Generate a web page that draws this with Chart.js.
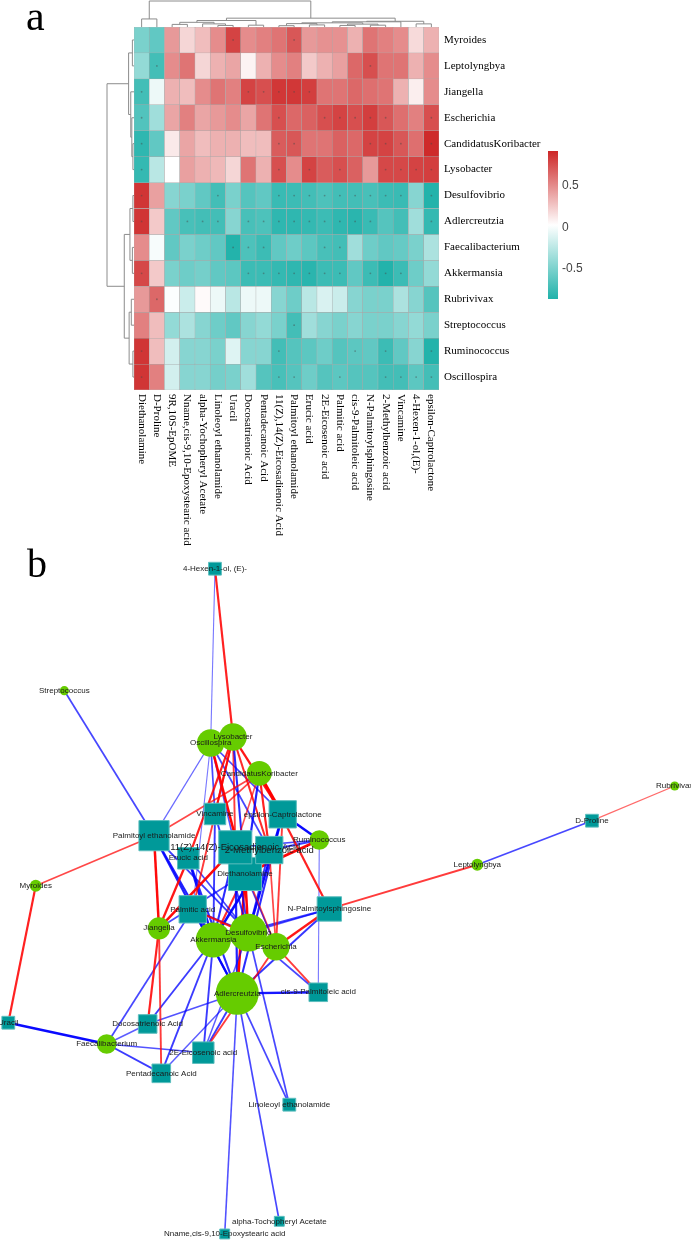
<!DOCTYPE html>
<html>
<head>
<meta charset="utf-8">
<title>Heatmap and correlation network</title>
<script src="https://cdn.jsdelivr.net/npm/chart.js@4.4.1/dist/chart.umd.min.js"></script>
<style>
  body { margin: 0; background: #fff; }
  #wrap { position: relative; width: 691px; height: 1240px; overflow: hidden; }
  #heat { position: absolute; left: 0; top: 0; }
  #net { position: absolute; left: 0; top: 540px; }
</style>
</head>
<body>
<div id="wrap">
  <canvas id="heat" width="691" height="560"></canvas>
  <canvas id="net" width="691" height="700"></canvas>
</div>
<script>
// ========================================
// Data
// ========================================
const bacteria = ['Myroides', 'Leptolyngbya', 'Jiangella', 'Escherichia', 'CandidatusKoribacter', 'Lysobacter',
    'Desulfovibrio', 'Adlercreutzia', 'Faecalibacterium', 'Akkermansia', 'Rubrivivax', 'Streptococcus',
    'Ruminococcus', 'Oscillospira'];

const metabolites = ['Diethanolamine', 'D-Proline', '9R,10S-EpOME', 'Nname,cis-9,10-Epoxystearic acid',
    'alpha-Yochopheryl Acetate', 'Linoleoyl ethanolamide', 'Uracil', 'Docosatrienoic Acid', 'Pentadecanoic Acid',
    '11(Z),14(Z)-Eicosadienoic Acid', 'Palmitoyl ethanolamide', 'Erucic acid', '2E-Eicosenoic acid', 'Palmitic acid',
    'cis-9-Palmitoleic acid', 'N-Palmitoylsphingosine', '2-Methylbenzoic acid', 'Vincamine', '4-Hexen-1-ol,(E)-',
    'epsilon-Captrolactone'];

// metabolite names as they are spelled in the network panel
const netNames = ['Diethanolamine', 'D-Proline', '9R,10S-EpOME', 'Nname,cis-9,10-Epoxystearic acid',
    'alpha-Tochopheryl Acetate', 'Linoleoyl ethanolamide', 'Uracil', 'Docosatrienoic Acid', 'Pentadecanoic Acid',
    '11(Z),14(Z)-Eicosadienoic Acid', 'Palmitoyl ethanolamide', 'Erucic acid', '2E-Eicosenoic acid', 'Palmitic acid',
    'cis-9-Palmitoleic acid', 'N-Palmitoylsphingosine', '2-Methylbenzoic acid', 'Vincamine', '4-Hexen-1-ol, (E)-',
    'epsilon-Captrolactone'];

// correlation, one row per bacterium, one value per metabolite
const corr = [
    [-0.50, -0.60, 0.45, 0.20, 0.30, 0.50, 0.80, 0.50, 0.55, 0.60, 0.72, 0.45, 0.48, 0.48, 0.35, 0.60, 0.55, 0.50, 0.18, 0.35],
    [-0.40, -0.72, 0.50, 0.60, 0.20, 0.35, 0.40, 0.08, 0.35, 0.50, 0.55, 0.25, 0.35, 0.42, 0.65, 0.75, 0.60, 0.60, 0.35, 0.50],
    [-0.72, -0.04, 0.35, 0.30, 0.50, 0.60, 0.55, 0.80, 0.75, 0.85, 0.85, 0.82, 0.60, 0.60, 0.65, 0.62, 0.60, 0.35, 0.10, 0.50],
    [-0.66, -0.35, 0.40, 0.55, 0.40, 0.45, 0.50, 0.40, 0.60, 0.75, 0.65, 0.68, 0.75, 0.80, 0.75, 0.82, 0.72, 0.62, 0.55, 0.75],
    [-0.80, -0.60, 0.12, 0.40, 0.30, 0.35, 0.35, 0.30, 0.30, 0.70, 0.72, 0.60, 0.60, 0.68, 0.65, 0.80, 0.80, 0.72, 0.62, 0.90],
    [-0.78, -0.25, 0.03, 0.42, 0.35, 0.32, 0.20, 0.60, 0.35, 0.75, 0.50, 0.80, 0.70, 0.75, 0.68, 0.45, 0.78, 0.78, 0.80, 0.82],
    [0.86, 0.42, -0.45, -0.50, -0.60, -0.72, -0.50, -0.65, -0.60, -0.76, -0.75, -0.72, -0.68, -0.72, -0.72, -0.70, -0.75, -0.76, -0.45, -0.85],
    [0.86, 0.25, -0.60, -0.70, -0.72, -0.72, -0.45, -0.70, -0.68, -0.80, -0.80, -0.78, -0.75, -0.80, -0.82, -0.76, -0.65, -0.72, -0.35, -0.78],
    [0.50, 0.00, -0.60, -0.50, -0.55, -0.60, -0.85, -0.68, -0.75, -0.60, -0.55, -0.62, -0.70, -0.72, -0.35, -0.55, -0.60, -0.58, -0.50, -0.30],
    [0.78, 0.25, -0.50, -0.55, -0.52, -0.60, -0.62, -0.75, -0.75, -0.78, -0.80, -0.82, -0.75, -0.75, -0.60, -0.75, -0.85, -0.75, -0.55, -0.40],
    [0.45, 0.65, 0.02, -0.18, 0.05, -0.04, -0.25, -0.04, -0.04, -0.45, -0.55, -0.25, -0.12, -0.18, -0.45, -0.50, -0.50, -0.30, -0.45, -0.65],
    [0.55, 0.30, -0.40, -0.30, -0.45, -0.55, -0.60, -0.45, -0.40, -0.50, -0.72, -0.35, -0.45, -0.50, -0.45, -0.50, -0.50, -0.45, -0.40, -0.50],
    [0.86, 0.30, -0.15, -0.45, -0.45, -0.50, -0.10, -0.45, -0.45, -0.72, -0.65, -0.62, -0.55, -0.65, -0.62, -0.60, -0.75, -0.60, -0.45, -0.85],
    [0.86, 0.55, -0.15, -0.45, -0.45, -0.52, -0.50, -0.35, -0.65, -0.70, -0.65, -0.55, -0.65, -0.62, -0.65, -0.65, -0.72, -0.72, -0.62, -0.72]
];

// significant cells (dots in the heatmap) = edges of the network
const sigCols = [
    [6, 10],
    [1, 15],
    [0, 7, 8, 9, 10, 11],
    [0, 9, 12, 13, 14, 15, 16, 19],
    [0, 9, 10, 15, 16, 17, 19],
    [0, 9, 11, 13, 16, 17, 18, 19],
    [0, 5, 9, 10, 11, 12, 13, 14, 15, 16, 17, 19],
    [0, 3, 4, 5, 7, 8, 9, 10, 11, 12, 13, 14, 15, 19],
    [6, 7, 8, 12, 13],
    [0, 7, 8, 9, 10, 11, 12, 13, 15, 16, 17],
    [1],
    [10],
    [0, 9, 14, 16, 19],
    [0, 9, 10, 13, 16, 17, 18, 19]
];

// dendrograms: [left, right, height]; leaves first, then merges in order
const rowTree = [
    [0, 1, 0.06], [4, 5, 0.04], [3, 15, 0.08], [2, 16, 0.12], [14, 17, 0.20],
    [6, 7, 0.04], [8, 9, 0.06], [19, 20, 0.15], [10, 11, 0.10], [12, 13, 0.04],
    [22, 23, 0.18], [21, 24, 0.36], [18, 25, 1.0]
];
const colTree = [
    [0, 1, 0.31], [2, 3, 0.10], [5, 6, 0.06], [4, 22, 0.12], [21, 23, 0.18],
    [7, 8, 0.07], [24, 25, 0.25], [9, 10, 0.05], [11, 12, 0.08], [27, 28, 0.13],
    [13, 14, 0.06], [15, 16, 0.07], [30, 31, 0.11], [29, 32, 0.16], [33, 17, 0.20],
    [18, 19, 0.12], [34, 35, 0.22], [26, 36, 0.34], [20, 37, 1.0]
];

const colorMin = -0.86;
const colorMax = 0.92;
const legendTicks = [0.5, 0, -0.5];

// network layout (layout units, 0-100 on each axis)
const bacPos = [
    [5.17, 49.39], [69.07, 46.39], [23.01, 55.47], [39.94, 58.10], [37.53, 33.33], [33.72, 28.14],
    [35.93, 56.10], [34.34, 64.76], [15.44, 72.00], [30.87, 57.14], [97.64, 35.14], [9.31, 21.53],
    [46.21, 42.86], [30.49, 29.00]
];
const metPos = [
    [35.46, 47.71], [85.67, 40.10], null, [32.52, 99.14], [40.42, 97.33], [41.87, 80.67], [1.20, 68.96],
    [21.37, 69.14], [23.34, 76.19], [34.05, 43.90], [22.29, 42.24], [27.25, 45.47], [29.42, 73.24],
    [27.89, 52.76], [46.06, 64.61], [47.66, 52.71], [38.97, 44.29], [31.11, 39.14], [31.11, 4.10],
    [40.91, 39.19]
];

// ========================================
// Helpers
// ========================================
function mix(a, b, t) {
    return a.map((v, i) => Math.round(v + (b[i] - v) * t));
}

function heatColor(v) {
    const lo = [32, 178, 170], mid = [255, 255, 255], hi = [205, 38, 38];
    const m = (colorMin + colorMax) / 2;
    let c;
    if (v < m) c = mix(lo, mid, Math.max(0, (v - colorMin) / (m - colorMin)));
    else c = mix(mid, hi, Math.min(1, (v - m) / (colorMax - m)));
    return `rgb(${c[0]},${c[1]},${c[2]})`;
}

function drawTree(ctx, tree, leafPix, heightPix) {
    const pos = leafPix.slice();
    const hts = leafPix.map(() => 0);
    tree.forEach(([i, j, h]) => {
        const hp = heightPix(h);
        ctx.beginPath();
        ctx.moveTo(...hp.pt(pos[i], heightPix(hts[i]).v));
        ctx.lineTo(...hp.pt(pos[i], hp.v));
        ctx.lineTo(...hp.pt(pos[j], hp.v));
        ctx.lineTo(...hp.pt(pos[j], heightPix(hts[j]).v));
        ctx.stroke();
        pos.push((pos[i] + pos[j]) / 2);
        hts.push(h);
    });
}

// ========================================
// Heatmap (panel a)
// ========================================
const heatSets = bacteria.map((name, r) => ({
    type: 'bar',
    label: name,
    data: metabolites.map(() => [r, r + 1]),
    backgroundColor: corr[r].map(heatColor),
    borderColor: '#a9a9a9',
    borderWidth: 0.5,
    borderSkipped: false,
    barPercentage: 1,
    categoryPercentage: 1,
    grouped: false,
    order: 2
}));

const sigPoints = [];
sigCols.forEach((cols, r) => cols.forEach(c => sigPoints.push({ x: metabolites[c], y: r + 0.5 })));

heatSets.push({
    type: 'scatter',
    label: 'p < 0.05',
    data: sigPoints,
    pointRadius: 0.9,
    pointBorderWidth: 0,
    backgroundColor: 'rgba(70,70,70,0.45)',
    order: 1
});

const heatExtras = {
    id: 'heatExtras',
    afterDraw(chart) {
        const { ctx, chartArea: a, scales: { x, y } } = chart;
        ctx.save();

        // column labels, rotated to read downwards
        ctx.font = '11px "Liberation Serif"';
        ctx.fillStyle = '#000';
        ctx.textAlign = 'left';
        ctx.textBaseline = 'middle';
        metabolites.forEach((m, i) => {
            ctx.save();
            ctx.translate(x.getPixelForValue(i), a.bottom + 4);
            ctx.rotate(Math.PI / 2);
            ctx.fillText(m, 0, 0);
            ctx.restore();
        });

        // dendrograms
        ctx.strokeStyle = '#8c8c8c';
        ctx.lineWidth = 1;
        const colLeaves = metabolites.map((_, i) => x.getPixelForValue(i));
        drawTree(ctx, colTree, colLeaves, h => ({ v: a.top - h * (a.top - 1), pt: (p, v) => [p, v] }));
        const rowLeaves = bacteria.map((_, i) => y.getPixelForValue(i + 0.5));
        drawTree(ctx, rowTree, rowLeaves, h => ({ v: a.left - h * 27, pt: (p, v) => [v, p] }));

        // colour bar
        const bx = 548, bw = 10, top = 151, bot = 299;
        const g = ctx.createLinearGradient(0, top, 0, bot);
        g.addColorStop(0, heatColor(colorMax));
        g.addColorStop(0.5, heatColor((colorMin + colorMax) / 2));
        g.addColorStop(1, heatColor(colorMin));
        ctx.fillStyle = g;
        ctx.fillRect(bx, top, bw, bot - top);
        ctx.font = '12px "Liberation Sans"';
        ctx.fillStyle = '#444';
        legendTicks.forEach(v => {
            const ty = bot - (v - colorMin) / (colorMax - colorMin) * (bot - top);
            ctx.fillText(String(v), bx + 14, ty);
        });

        // panel letter
        ctx.font = '42px "Liberation Serif"';
        ctx.fillStyle = '#000';
        ctx.textBaseline = 'alphabetic';
        ctx.fillText('a', 26, 30);
        ctx.restore();
    }
};

new Chart(document.getElementById('heat'), {
    data: { labels: metabolites, datasets: heatSets },
    options: {
        responsive: false,
        animation: false,
        devicePixelRatio: 1,
        layout: { autoPadding: false, padding: { left: 134, top: 27, bottom: 170, right: 0 } },
        plugins: { legend: { display: false }, tooltip: { enabled: false } },
        scales: {
            x: { type: 'category', display: false, offset: true },
            y: {
                type: 'linear', min: 0, max: 14, reverse: true, position: 'right',
                afterBuildTicks: s => { s.ticks = bacteria.map((_, i) => ({ value: i + 0.5 })); },
                afterFit: s => { s.width = 252; },
                grid: { display: false, drawTicks: false },
                border: { display: false },
                ticks: {
                    autoSkip: false, padding: 5, color: '#000',
                    font: { family: 'Liberation Serif', size: 11 },
                    callback: (v, i) => bacteria[i]
                }
            }
        }
    },
    plugins: [heatExtras]
});

// ========================================
// Network (panel b)
// ========================================
const degB = sigCols.map(c => c.length);
const degM = metabolites.map((_, c) => sigCols.filter(s => s.includes(c)).length);
const metIdx = metabolites.map((_, c) => c).filter(c => degM[c] > 0);

const edgeSets = [];
sigCols.forEach((cols, r) => cols.forEach(c => {
    const v = corr[r][c];
    const t = Math.max(0, Math.min(1, (Math.abs(v) - 0.55) / 0.32));
    const alpha = (0.4 + 0.6 * t).toFixed(2);
    edgeSets.push({
        type: 'scatter',
        label: bacteria[r] + ' - ' + metabolites[c],
        data: [{ x: bacPos[r][0], y: bacPos[r][1] }, { x: metPos[c][0], y: metPos[c][1] }],
        showLine: true,
        borderColor: v > 0 ? `rgba(255,0,0,${alpha})` : `rgba(0,0,255,${alpha})`,
        borderWidth: 0.7 + 1.9 * t,
        pointRadius: 0,
        clip: false,
        order: 3
    });
}));

const nodeSets = [
    {
        type: 'scatter',
        label: 'metabolites',
        data: metIdx.map(c => ({ x: metPos[c][0], y: metPos[c][1] })),
        pointStyle: 'rect',
        pointRadius: metIdx.map(c => (7 + 2.9 * degM[c]) / Math.SQRT2),
        backgroundColor: '#009999',
        borderColor: '#5cbebe',
        borderWidth: 1,
        clip: false,
        order: 2
    },
    {
        type: 'scatter',
        label: 'bacteria',
        data: bacPos.map(p => ({ x: p[0], y: p[1] })),
        pointStyle: 'circle',
        pointRadius: degB.map(d => 3.3 + 1.3 * d),
        backgroundColor: '#66cc00',
        borderWidth: 0,
        clip: false,
        order: 1
    }
];

const bigLabels = [9, 16];

const netLabels = {
    id: 'netLabels',
    afterDatasetsDraw(chart) {
        const { ctx, scales: { x, y } } = chart;
        ctx.save();
        ctx.fillStyle = '#1a1a1a';
        ctx.textAlign = 'center';
        ctx.textBaseline = 'middle';
        metIdx.forEach(c => {
            ctx.font = (bigLabels.includes(c) ? 9.5 : 8) + 'px "Liberation Sans"';
            ctx.fillText(netNames[c], x.getPixelForValue(metPos[c][0]), y.getPixelForValue(metPos[c][1]));
        });
        ctx.font = '8px "Liberation Sans"';
        bacteria.forEach((b, r) => {
            ctx.fillText(b, x.getPixelForValue(bacPos[r][0]), y.getPixelForValue(bacPos[r][1]));
        });
        ctx.font = '40px "Liberation Serif"';
        ctx.fillStyle = '#000';
        ctx.textAlign = 'left';
        ctx.textBaseline = 'alphabetic';
        ctx.fillText('b', 27, 37);
        ctx.restore();
    }
};

new Chart(document.getElementById('net'), {
    data: { datasets: nodeSets.concat(edgeSets) },
    options: {
        responsive: false,
        animation: false,
        devicePixelRatio: 1,
        layout: { autoPadding: false, padding: 0 },
        plugins: { legend: { display: false }, tooltip: { enabled: false } },
        scales: {
            x: { type: 'linear', min: 0, max: 100, display: false },
            y: { type: 'linear', min: 0, max: 100, reverse: true, display: false }
        }
    },
    plugins: [netLabels]
});
</script>
</body>
</html>
